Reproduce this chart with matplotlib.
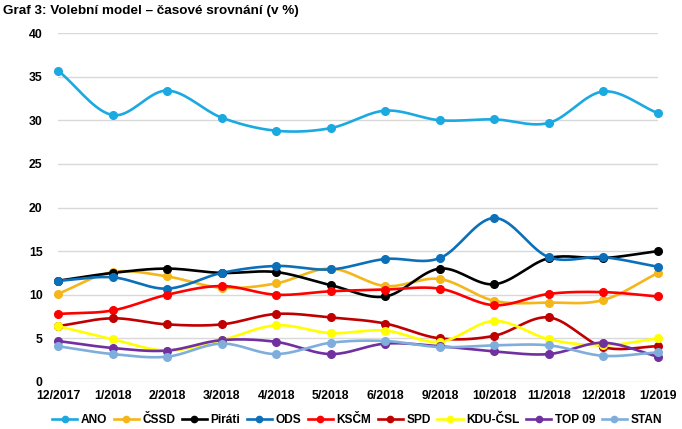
import numpy as np
import matplotlib.pyplot as plt

plt.rcParams['font.family'] = ['Liberation Sans', 'DejaVu Sans']

# Data
mesice = ['12/2017', '1/2018', '2/2018', '3/2018', '4/2018', '5/2018',
          '6/2018', '9/2018', '10/2018', '11/2018', '12/2018', '1/2019']

ano = [35.7, 30.6, 33.4, 30.3, 28.8, 29.1, 31.1, 30.0, 30.1, 29.7, 33.3, 30.8]
cssd = [10.1, 12.6, 12.1, 10.8, 11.3, 13.0, 11.0, 11.8, 9.3, 9.1, 9.4, 12.5]
pirati = [11.6, 12.5, 13.0, 12.5, 12.6, 11.1, 9.8, 13.0, 11.2, 14.2, 14.2, 15.0]
ods = [11.6, 12.0, 10.7, 12.5, 13.3, 12.9, 14.1, 14.2, 18.8, 14.3, 14.3, 13.2]
kscm = [7.8, 8.2, 10.0, 11.0, 10.0, 10.4, 10.6, 10.7, 8.8, 10.1, 10.3, 9.8]
spd = [6.4, 7.3, 6.6, 6.6, 7.8, 7.4, 6.7, 5.0, 5.3, 7.4, 4.0, 4.1]
kdu = [6.4, 4.9, 3.6, 4.8, 6.5, 5.6, 5.9, 4.6, 7.0, 4.9, 4.2, 5.0]
top09 = [4.7, 3.9, 3.6, 4.8, 4.6, 3.2, 4.4, 4.1, 3.5, 3.2, 4.5, 2.9]
stan = [4.1, 3.2, 2.9, 4.4, 3.2, 4.5, 4.7, 4.0, 4.2, 4.2, 3.0, 3.4]

strany = ['ANO', 'ČSSD', 'Piráti', 'ODS', 'KSČM', 'SPD', 'KDU-ČSL', 'TOP 09', 'STAN']
hodnoty = [ano, cssd, pirati, ods, kscm, spd, kdu, top09, stan]
barvy = ['#1BA9E1', '#F4B619', '#000000', '#0B6FBA', '#FF0000',
         '#C00000', '#FFFF00', '#7030A0', '#7FAEDC']


# vyhlazena cara (Catmull-Rom), jen pro vykresleni
def hladka(x, y, n=20):
    x = np.asarray(x, float)
    y = np.asarray(y, float)
    px = np.concatenate([[2*x[0]-x[1]], x, [2*x[-1]-x[-2]]])
    py = np.concatenate([[2*y[0]-y[1]], y, [2*y[-1]-y[-2]]])
    t = np.linspace(0, 1, n)
    ox, oy = [], []
    for i in range(1, len(px)-2):
        for p, o in ((px, ox), (py, oy)):
            p0, p1, p2, p3 = p[i-1], p[i], p[i+1], p[i+2]
            o.extend(0.5*((2*p1) + (-p0+p2)*t + (2*p0-5*p1+4*p2-p3)*t**2
                          + (-p0+3*p1-3*p2+p3)*t**3))
    return np.array(ox), np.array(oy)


fig = plt.figure(figsize=(6.82, 4.29), dpi=100)
ax = fig.add_axes([58/682, 47/429, 600/682, 349/429])

x = np.arange(len(mesice))
for nazev, h, c in zip(strany, hodnoty, barvy):
    sx, sy = hladka(x, h)
    ax.plot(sx, sy, color=c, lw=1.9, solid_capstyle='round', zorder=3, clip_on=False)
    ax.plot(x, h, 'o', color=c, ms=5.5, zorder=4, clip_on=False)
    ax.plot([], [], '-o', color=c, lw=1.9, ms=4.5, label=nazev)

ax.set_xlim(0, 11)
ax.set_ylim(0, 40)
ax.set_yticks(range(0, 41, 5))
ax.set_xticks(x)
ax.set_xticklabels(mesice)
ax.grid(axis='y', color='#D9D9D9', lw=1)
ax.set_axisbelow(True)
for s in ax.spines.values():
    s.set_visible(False)
ax.tick_params(length=0, labelsize=8.8)
ax.tick_params(axis='y', pad=11)
ax.tick_params(axis='x', pad=6)
for lab in ax.get_xticklabels() + ax.get_yticklabels():
    lab.set_fontweight('bold')

fig.text(3/682, 1-11/429, 'Graf 3: Volební model – časové srovnání (v %)',
         fontsize=9.7, fontweight='bold', va='center', ha='left')

leg = fig.legend(loc='center', bbox_to_anchor=(357/682, 1-420/429), ncol=9,
                 frameon=False, handlelength=2.1, handletextpad=0.3,
                 columnspacing=0.55, prop={'weight': 'bold', 'size': 8.6})

fig.savefig('out.png', dpi=100)
